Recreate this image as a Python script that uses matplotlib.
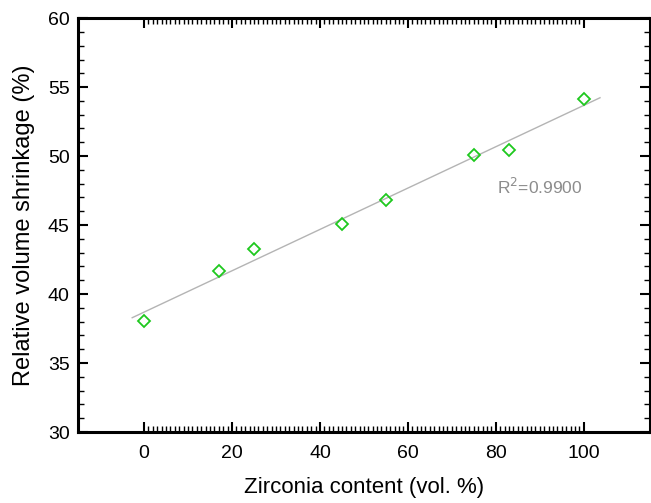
import numpy as np
import matplotlib.pyplot as plt
from matplotlib.ticker import FixedLocator, MultipleLocator

plt.rcParams['font.family'] = ['Liberation Sans', 'DejaVu Sans']

# dados
zirconia = [0, 17, 25, 45, 55, 75, 83, 100]
shrinkage = [38.07, 41.67, 43.24, 45.07, 46.83, 50.05, 50.43, 54.11]

# ajuste linear
coef = np.polyfit(zirconia, shrinkage, 1)
xfit = np.array([-2.7, 103.7])
yfit = np.polyval(coef, xfit)

fig = plt.figure(figsize=(6.51, 5.03), dpi=100)
ax = fig.add_axes([0.12, 0.141, 0.878, 0.823])

ax.plot(xfit, yfit, color='#b4b4b4', lw=1.0, zorder=1)
ax.plot(zirconia, shrinkage, 'D', ms=6, mfc='none', mec='#1ec81e', mew=1.3, zorder=2)

ax.text(80.3, 47.8, r'R$^2$=0.9900', color='#8c8c8c', fontsize=12.5, va='center')

ax.set_xlim(-15, 115)
ax.set_ylim(30, 60)
ax.xaxis.set_major_locator(FixedLocator([0, 20, 40, 60, 80, 100]))
ax.xaxis.set_minor_locator(FixedLocator(np.arange(0, 101, 1)))
ax.yaxis.set_major_locator(MultipleLocator(5))
ax.yaxis.set_minor_locator(MultipleLocator(1))

ax.tick_params(which='both', direction='in', top=True, right=True, width=1.5)
ax.tick_params(which='major', length=7, labelsize=14)
ax.tick_params(which='minor', length=4, width=1.0)
ax.tick_params(axis='x', which='major', pad=9)
ax.tick_params(axis='y', which='major', pad=6)

for s in ax.spines.values():
    s.set_linewidth(2.2)

ax.set_xlabel('Zirconia content (vol. %)', fontsize=16, labelpad=11)
ax.set_ylabel('Relative volume shrinkage (%)', fontsize=17, labelpad=9)

fig.savefig('out.png', dpi=100)
